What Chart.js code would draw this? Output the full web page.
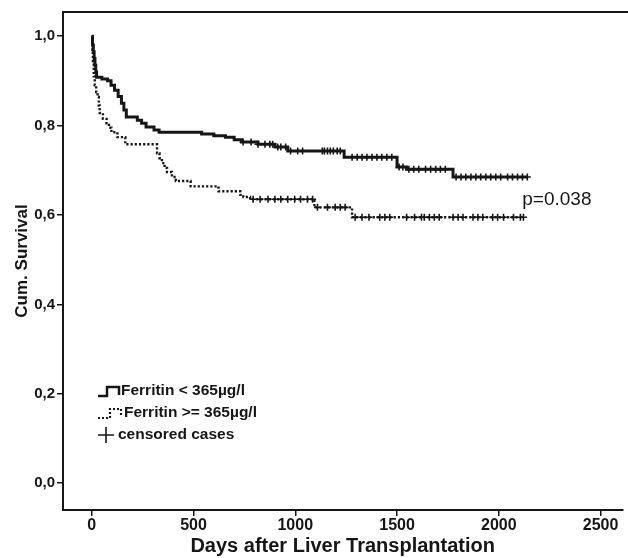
<!DOCTYPE html>
<html>
<head>
<meta charset="utf-8">
<script src="https://cdn.jsdelivr.net/npm/chart.js@4.4.1/dist/chart.umd.min.js"></script>
<style>
  html, body { margin: 0; padding: 0; background: #fff; overflow: hidden; }
</style>
</head>
<body>
<canvas id="km" width="628" height="558"></canvas>
<script>
// Kaplan-Meier survival
const lowTimes = [0, 4, 8, 12, 16, 20, 24, 50, 78, 95, 112, 130, 146, 158, 170, 224, 245, 267, 306, 331, 540, 600, 657, 700, 736, 817, 900, 963, 1240, 1500, 1547, 1775, 2140];
const lowSurv  = [1.0, 0.98, 0.965, 0.95, 0.935, 0.92, 0.908, 0.904, 0.90, 0.89, 0.879, 0.865, 0.85, 0.835, 0.819, 0.812, 0.805, 0.797, 0.79, 0.785, 0.781, 0.777, 0.774, 0.768, 0.763, 0.758, 0.752, 0.743, 0.729, 0.707, 0.702, 0.685, 0.685];

const highTimes = [0, 3, 6, 10, 15, 22, 29, 35, 39, 55, 73, 85, 97, 126, 165, 321, 333, 345, 358, 370, 394, 413, 486, 623, 730, 745, 778, 1094, 1279, 2121];
const highSurv  = [1.0, 0.97, 0.94, 0.91, 0.89, 0.875, 0.864, 0.845, 0.828, 0.815, 0.805, 0.795, 0.785, 0.774, 0.758, 0.738, 0.727, 0.716, 0.705, 0.696, 0.685, 0.676, 0.664, 0.653, 0.645, 0.64, 0.635, 0.617, 0.595, 0.595];

// censored cases (days)
const lowCensored = [744, 783, 817, 851, 875, 889, 914, 929, 953, 977, 1012, 1036, 1133, 1143, 1158, 1172, 1187, 1206, 1221, 1279, 1304, 1328, 1352, 1377, 1401, 1425, 1450, 1474, 1510, 1529, 1558, 1582, 1607, 1640, 1665, 1690, 1713, 1737, 1790, 1814, 1838, 1863, 1887, 1911, 1936, 1960, 1985, 2009, 2043, 2067, 2092, 2116, 2140];
const highCensored = [793, 827, 866, 900, 929, 963, 997, 1026, 1060, 1085, 1109, 1158, 1196, 1221, 1245, 1294, 1328, 1362, 1415, 1440, 1464, 1547, 1586, 1620, 1634, 1659, 1683, 1707, 1775, 1800, 1824, 1873, 1897, 1921, 1970, 1994, 2023, 2072, 2106, 2121];

const xTicks = [0, 500, 1000, 1500, 2000, 2500];
const xTickLabels = ['0', '500', '1000', '1500', '2000', '2500'];
const yTicks = [0, 0.2, 0.4, 0.6, 0.8, 1.0];
const yTickLabels = ['0,0', '0,2', '0,4', '0,6', '0,8', '1,0'];

const legendLabels = ['Ferritin < 365µg/l', 'Ferritin >= 365µg/l', 'censored cases'];
const pValueText = 'p=0.038';
const pValueAt = [2115, 0.635];

const INK = '#161616';
const FONT = "'Liberation Sans', Arial, Helvetica, sans-serif";

function survAt(times, surv, t) {
  let s = surv[0];
  for (let i = 0; i < times.length; i++) {
    if (times[i] <= t) s = surv[i];
  }
  return s;
}

const toPoints = (times, surv) => times.map((t, i) => ({ x: t, y: surv[i] }));
const censorPoints = (days, times, surv) => days.map(d => ({ x: d, y: survAt(times, surv, d) }));
const labelFor = (ticks, labels, v) => labels[ticks.findIndex(t => Math.abs(t - v) < 1e-9)];

// top frame line, legend box and p-value
const extras = {
  id: 'extras',
  afterDraw(chart) {
    const { ctx, chartArea: a, scales } = chart;
    ctx.save();
    ctx.strokeStyle = INK;
    ctx.lineWidth = 2;
    ctx.beginPath();
    ctx.moveTo(a.left - 1, a.top);
    ctx.lineTo(chart.width, a.top);
    ctx.stroke();

    // legend
    const lx = a.left + 35;
    const ly = a.top + 378;
    ctx.lineWidth = 2.5;
    ctx.beginPath();
    ctx.moveTo(lx, ly + 6);
    ctx.lineTo(lx + 9, ly + 6);
    ctx.lineTo(lx + 9, ly - 3);
    ctx.lineTo(lx + 21, ly - 3);
    ctx.lineTo(lx + 21, ly + 5);
    ctx.stroke();

    ctx.lineWidth = 2.2;
    ctx.setLineDash([2, 2]);
    ctx.beginPath();
    ctx.moveTo(lx, ly + 28);
    ctx.lineTo(lx + 12, ly + 28);
    ctx.lineTo(lx + 12, ly + 19);
    ctx.lineTo(lx + 23, ly + 19);
    ctx.lineTo(lx + 23, ly + 27);
    ctx.stroke();
    ctx.setLineDash([]);

    ctx.lineWidth = 1.6;
    ctx.beginPath();
    ctx.moveTo(lx, ly + 45);
    ctx.lineTo(lx + 16, ly + 45);
    ctx.moveTo(lx + 8, ly + 37);
    ctx.lineTo(lx + 8, ly + 53);
    ctx.stroke();

    ctx.fillStyle = INK;
    ctx.font = 'bold 15.5px ' + FONT;
    ctx.textBaseline = 'middle';
    ctx.textAlign = 'left';
    ctx.fillText(legendLabels[0], lx + 23, ly + 1);
    ctx.fillText(legendLabels[1], lx + 26, ly + 23);
    ctx.fillText(legendLabels[2], lx + 20, ly + 45);

    // p value
    ctx.font = '19px ' + FONT;
    ctx.fillText(pValueText, scales.x.getPixelForValue(pValueAt[0]), scales.y.getPixelForValue(pValueAt[1]));
    ctx.restore();
  }
};

new Chart(document.getElementById('km'), {
  type: 'line',
  data: {
    datasets: [
      {
        label: legendLabels[0],
        data: toPoints(lowTimes, lowSurv),
        stepped: 'before',
        borderColor: INK,
        borderWidth: 3,
        pointRadius: 0
      },
      {
        label: legendLabels[1],
        data: toPoints(highTimes, highSurv),
        stepped: 'before',
        borderColor: INK,
        borderWidth: 2.4,
        borderDash: [2.2, 2],
        pointRadius: 0
      },
      {
        label: 'censored low',
        data: censorPoints(lowCensored, lowTimes, lowSurv),
        showLine: false,
        pointStyle: 'cross',
        pointRadius: 3.5,
        pointBorderWidth: 1.6,
        pointBorderColor: INK
      },
      {
        label: 'censored high',
        data: censorPoints(highCensored, highTimes, highSurv),
        showLine: false,
        pointStyle: 'cross',
        pointRadius: 3.5,
        pointBorderWidth: 1.6,
        pointBorderColor: INK
      }
    ]
  },
  options: {
    responsive: false,
    animation: false,
    layout: { padding: { top: 12, right: 0, bottom: 0, left: 0 } },
    plugins: { legend: { display: false }, tooltip: { enabled: false } },
    scales: {
      x: {
        type: 'linear',
        min: -141,
        max: 2607,
        afterBuildTicks: s => { s.ticks = xTicks.map(v => ({ value: v })); },
        afterFit: s => { s.height = 48; },
        ticks: {
          color: INK,
          font: { family: FONT, size: 16, weight: 'bold' },
          padding: 0,
          maxRotation: 0,
          autoSkip: false,
          callback: v => labelFor(xTicks, xTickLabels, v)
        },
        grid: { drawOnChartArea: false, tickLength: 6, color: INK, lineWidth: 1.5 },
        border: { display: true, color: INK, width: 2 },
        title: {
          display: true,
          text: 'Days after Liver Transplantation',
          color: INK,
          font: { family: FONT, size: 20, weight: 'bold' },
          padding: { top: 0, bottom: 0 }
        }
      },
      y: {
        min: -0.06,
        max: 1.054,
        afterBuildTicks: s => { s.ticks = yTicks.map(v => ({ value: v })); },
        afterFit: s => { s.width = 63; },
        ticks: {
          color: INK,
          font: { family: FONT, size: 15, weight: 'bold' },
          padding: 2,
          autoSkip: false,
          callback: v => labelFor(yTicks, yTickLabels, v)
        },
        grid: { drawOnChartArea: false, tickLength: 6, color: INK, lineWidth: 1.5 },
        border: { display: true, color: INK, width: 2 },
        title: {
          display: true,
          text: 'Cum. Survival',
          color: INK,
          font: { family: FONT, size: 17, weight: 'bold' },
          padding: { top: 12, bottom: 0 }
        }
      }
    }
  },
  plugins: [extras]
});
</script>
</body>
</html>
